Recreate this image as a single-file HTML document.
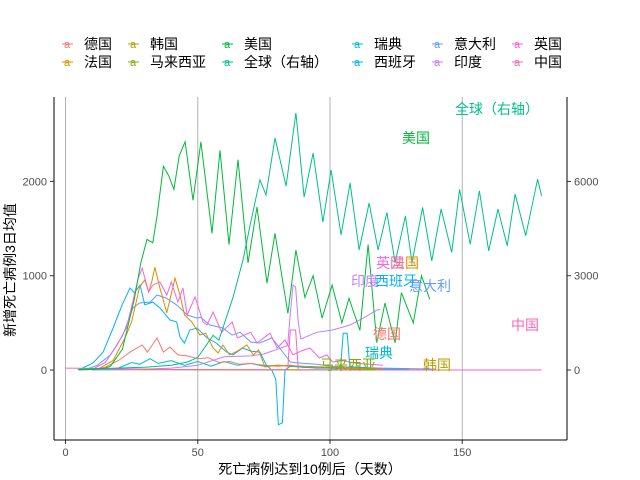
<!DOCTYPE html>
<html><head><meta charset="utf-8">
<style>
body{margin:0;background:#fff;}
svg{display:block;font-family:"Liberation Sans","Noto Sans CJK SC",sans-serif;}
</style></head>
<body>
<svg id="chart" width="640" height="480" viewBox="0 0 640 480">
<g id="legend"></g>
<g id="grid"></g>
<g id="series"></g>
<g id="axes"></g>
<g id="labels"></g>
<text x="310" y="474" text-anchor="middle" font-size="14" fill="#000">死亡病例达到10例后（天数）</text>
<text transform="translate(15,270) rotate(-90)" text-anchor="middle" font-size="14" fill="#000">新增死亡病例3日均值</text>
</svg>
<script>
const xTicks=[0,50,100,150];
const yTicksLeft=[0,1000,2000];
const yTicksRight=[0,3000,6000];

const usDays=[5,10,15,17,21.5,26,28.5,30.8,33,34.6,37,39,41,43,45.2,48.2,51.2,55.4,58.4,61.8,65.2,69,72.4,76.2,79.2,84.1,87.1,90.5,93.6,97,100.8,104.5,107.2,111.3,114.4,117.7,120.8,124.6,127,131.5,134.6,137.7];
const usVals=[0,5,20,40,220,750,1140,1385,1350,1630,2160,2060,1915,2270,2420,1800,2420,1450,2330,1330,2230,1135,1730,920,1450,600,1270,770,1000,550,900,500,760,420,1330,290,710,290,820,500,1000,750];
const globalDays=[4.6,10,20,30,40,46,50,55.8,58,63.3,67.1,70,73.5,75.8,79.2,83.4,87.1,90.2,93.6,97.3,100.4,104.2,107.6,111,114.8,118.2,121.5,124.6,128.5,131,135,138.5,142,146,149,153,156.5,160,163.5,167,170,174,178.5,180];
const globalVals=[20,40,60,90,150,250,400,1100,950,2300,3500,4700,6050,5570,7380,5850,8180,5500,6900,4710,6360,4300,5950,3820,5310,3820,5010,3420,4900,3420,5170,3470,5120,3740,5750,4000,5700,3790,5120,3950,5600,4270,6070,5540];
const spainDays=[5,10.4,14.2,18,21.4,24.4,26,28.2,30,33,35.7,39.5,42,43.3,45,47,49.7,53.5,57,61,63.3,67,70,73.5,76,78,79.5,80.5,82,83,85,90,95,100,104,105,106.5,107.5,110,115,120,125,130];
const spainVals=[0,74,190,445,690,870,820,900,690,720,660,530,510,350,285,424,445,340,285,190,160,233,200,190,50,0,-100,-580,-560,0,40,30,20,20,20,390,390,40,30,20,10,10,5];
const italyDays=[8,12,17,21.7,25.5,28,32,34.6,38,42,46,49.7,51,54.6,59.5,63,66,70,73.5,78,81,85,90,95,100,110,120,130,140];
const italyVals=[10,50,160,370,660,710,720,795,763,690,583,550,560,477,445,370,400,297,286,340,233,85,70,60,40,30,20,15,10];
const germanyDays=[10,15,20,24.4,29,31,34.6,37,39.5,42.5,46,50,54,58,62,66,70,75,80,85,90,100,110,120];
const germanyVals=[5,30,100,190,265,190,340,190,244,160,150,120,130,80,90,60,70,50,40,50,30,20,15,10];
const ukDays=[10,15,19.5,23,25,27.5,29,31.4,33,35.7,38.3,40,42.5,44.4,46,49,52,53.5,55.8,59,63,65,70,72.4,77.3,80,83,86,89,92.4,96,98.8,101,105,110,115,120];
const ukVals=[5,80,265,445,670,975,1080,827,900,933,795,933,720,870,583,775,509,477,615,400,509,340,400,286,390,233,318,160,200,233,127,160,85,100,70,60,50];
const franceDays=[12,18,22.5,25,28,30,31.4,32.6,33.8,35.7,38.3,41.4,43.3,45,47.8,50.8,53,55.8,57.7,59.5,62,65,68.6,71,73,75.4,80,90,100,110,120];
const franceVals=[5,100,340,509,880,955,827,933,1090,870,605,975,795,583,509,371,390,233,180,265,160,200,265,160,212,32,50,40,30,20,10];
const swedenDays=[10,20,25,28,32,35,40,45,50,55,60,65,70,75,80,90,100,110,118];
const swedenVals=[0,20,80,60,120,70,100,50,90,40,90,50,70,40,50,30,20,15,10];
const indiaDays=[10,20,30,40,50,60,70,75,80,84,85,86,87,88,89,95,101,107.6,112.6,117.8,119];
const indiaVals=[0,2,10,20,50,140,150,170,220,260,600,900,880,500,330,400,424,477,550,636,640];
const chinaDays=[0,20,40,60,80,84,85,87,88,100,120,140,160,180];
const chinaVals=[20,15,5,2,2,2,424,424,0,0,0,0,0,0];
const koreaDays=[5,30,60,90,110,120,130,137];
const koreaVals=[5,5,3,3,2,2,3,3];
const malaysiaDays=[15,40,70,100,115];
const malaysiaVals=[2,2,1,1,1];

const NS="http://www.w3.org/2000/svg";
const X0=65.5,PXD=2.645,Y0=370,PXV=0.0943;
function xs(d){return X0+d*PXD;}
function yl(v){return Y0-v*PXV;}
function yr(v){return Y0-v*PXV/3;}
function mk(tag,attrs,parent){const e=document.createElementNS(NS,tag);for(const k in attrs)e.setAttribute(k,attrs[k]);parent.appendChild(e);return e;}

const grid=document.getElementById('grid');
const axes=document.getElementById('axes');
xTicks.forEach(t=>{
  const g=mk('line',{x1:xs(t),x2:xs(t),y1:97,y2:440,stroke:'#b3b3b3','stroke-width':1},grid);
  
  
  const tk=mk('line',{x1:xs(t),x2:xs(t),y1:440,y2:444,stroke:'#333'},axes);
  
  
  const tx=mk('text',{x:xs(t),y:456,'text-anchor':'middle','font-size':11,fill:'#4d4d4d'},axes);
  tx.textContent=t;
  
  
});
const la=mk('line',{x1:54,x2:54,y1:97,y2:440,stroke:'#000'},axes);


const ra=mk('line',{x1:567,x2:567,y1:97,y2:440,stroke:'#000'},axes);


const ba=mk('line',{x1:54,x2:567,y1:440,y2:440,stroke:'#000'},axes);


yTicksLeft.forEach(t=>{
  const tk=mk('line',{x1:50,x2:54,y1:yl(t),y2:yl(t),stroke:'#333'},axes);
  
  
  const tx=mk('text',{x:47,y:yl(t)+4,'text-anchor':'end','font-size':11,fill:'#4d4d4d'},axes);
  tx.textContent=t;
  
  
});
yTicksRight.forEach(t=>{
  const tk=mk('line',{x1:567,x2:571,y1:yr(t),y2:yr(t),stroke:'#333'},axes);
  
  
  const tx=mk('text',{x:574,y:yr(t)+4,'text-anchor':'start','font-size':11,fill:'#4d4d4d'},axes);
  tx.textContent=t;
  
  
});

const series=document.getElementById('series');
function line(days,vals,color,yf,name){
  const pts=days.map((d,i)=>xs(d).toFixed(1)+','+yf(vals[i]).toFixed(1)).join(' ');
  const p=mk('polyline',{points:pts,fill:'none',stroke:color,'stroke-width':1},series);
  
  
}
line(malaysiaDays,malaysiaVals,'#7CAE00',yl,'malaysia-line');
line(koreaDays,koreaVals,'#B79F00',yl,'korea-line');
line(swedenDays,swedenVals,'#00BFC4',yl,'sweden-line');
line(germanyDays,germanyVals,'#F8766D',yl,'germany-line');
line(indiaDays,indiaVals,'#C77CFF',yl,'india-line');
line(italyDays,italyVals,'#619CFF',yl,'italy-line');
line(spainDays,spainVals,'#00B4F0',yl,'spain-line');
line(franceDays,franceVals,'#DE8C00',yl,'france-line');
line(ukDays,ukVals,'#F564E3',yl,'uk-line');
line(chinaDays,chinaVals,'#FF64B0',yl,'china-line');
line(globalDays,globalVals,'#00C08B',yr,'global-line');
line(usDays,usVals,'#00BA38',yl,'us-line');

const labels=document.getElementById('labels');
function lab(x,y,txt,color,name){
  const t=mk('text',{x:x,y:y,'text-anchor':'middle','font-size':14,fill:color},labels);
  t.textContent=txt;
  
  
}
lab(497,114,'全球（右轴）','#00C08B','global-label');
lab(416,143,'美国','#00BA38','us-label');
lab(405,268,'法国','#DE8C00','france-label');
lab(390,268,'英国','#F564E3','uk-label');
lab(365,286,'印度','#C77CFF','india-label');
lab(396,286,'西班牙','#00B4F0','spain-label');
lab(430,291,'意大利','#619CFF','italy-label');
lab(387,339,'德国','#F8766D','germany-label');
lab(379,358,'瑞典','#00BFC4','sweden-label');
lab(348,370,'马来西亚','#7CAE00','malaysia-label');
lab(437,370,'韩国','#B79F00','korea-label');
lab(525,330,'中国','#FF64B0','china-label');

const legend=document.getElementById('legend');
const legCols=[62,128,222,352,432,512];
const legRows=[48,66];
const legNames=[['德国','法国'],['韩国','马来西亚'],['美国','全球（右轴）'],['瑞典','西班牙'],['意大利','印度'],['英国','中国']];
const legColors=[['#F8766D','#DE8C00'],['#B79F00','#7CAE00'],['#00BA38','#00C08B'],['#00BFC4','#00B4F0'],['#619CFF','#C77CFF'],['#F564E3','#FF64B0']];
legCols.forEach((cx,ci)=>{
  legRows.forEach((ry,ri)=>{
    const g=mk('g',{},legend);
    
    
    const k=mk('text',{x:cx+5,y:ry,'text-anchor':'middle','font-size':11,fill:legColors[ci][ri]},g);
    k.textContent='a';
    const u=mk('line',{x1:cx,x2:cx+11,y1:ry-4,y2:ry-4,stroke:legColors[ci][ri]},g);
    const t=mk('text',{x:cx+22,y:ry+1,'font-size':14,fill:'#000'},g);
    t.textContent=legNames[ci][ri];
  });
});
</script>
</body></html>
